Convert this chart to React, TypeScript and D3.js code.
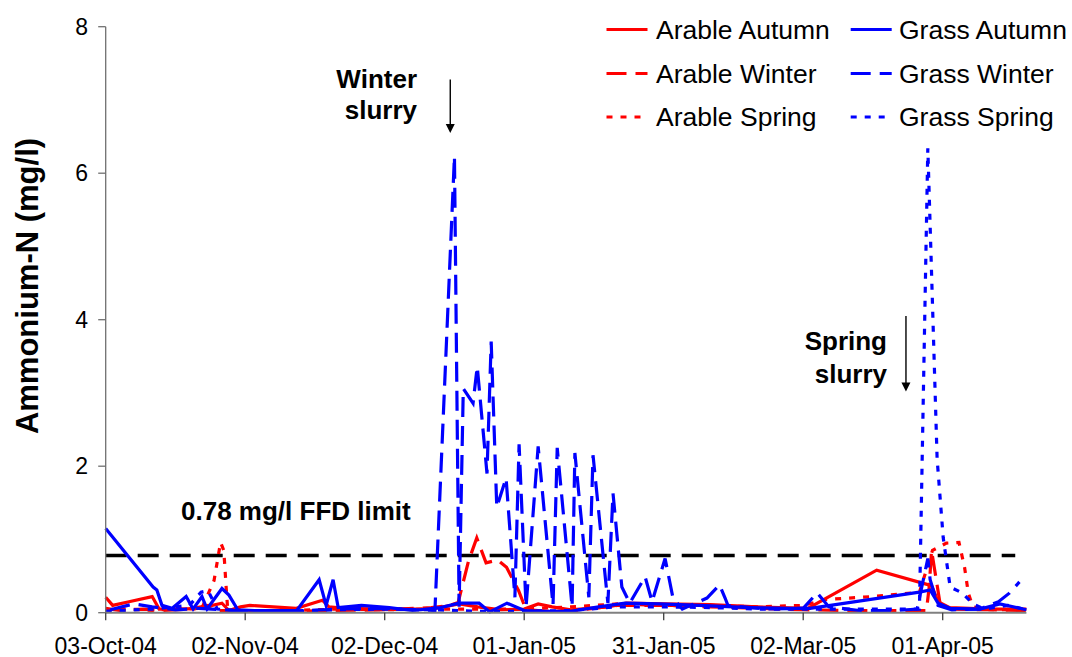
import React from 'react';
import * as d3 from 'd3';

// ---- data (days after 03-Oct-2004, ammonium-N mg/l) ----
const START = Date.UTC(2004, 9, 3);
const DAY = 86400000;
const END_DAY = 198;

const tickDays = [0, 30, 60, 90, 120, 150, 180];
const yTicks = [0, 2, 4, 6, 8];
const ffdLimit = 0.78;
const ffdEndDay = 195.6;

const arableAutumnDays = [0, 1.5, 5, 10, 11.5, 16, 20, 25, 26.5, 29, 31, 36, 41, 46.6, 48, 51.5, 60, 70, 76, 80, 85, 90, 93, 96, 100, 108, 112, 120, 130, 140, 151, 165.8, 177.6, 179, 181.5, 190, 198];
const arableAutumnValues = [0.21, 0.1, 0.15, 0.22, 0.05, 0.05, 0.06, 0.13, 0.03, 0.08, 0.1, 0.08, 0.06, 0.17, 0.08, 0.06, 0.05, 0.05, 0.12, 0.08, 0.04, 0.05, 0.12, 0.08, 0.04, 0.08, 0.13, 0.12, 0.11, 0.08, 0.06, 0.58, 0.37, 0.15, 0.07, 0.05, 0.05];

const arableWinterDays = [0, 3, 8, 12, 18, 22, 24, 30, 40, 50, 60, 70, 74, 75.8, 78, 79.8, 81.8, 84.3, 86.2, 88.8, 90.4, 95, 100, 105, 110, 120, 130, 140, 150, 160, 170, 176.5, 177.1, 177.6, 179.5, 182, 190, 198];
const arableWinterValues = [0.06, 0.03, 0.05, 0.03, 0.05, 0.1, 0.03, 0.03, 0.02, 0.03, 0.04, 0.07, 0.1, 0.14, 0.7, 1.02, 0.68, 0.72, 0.62, 0.3, 0.04, 0.02, 0.02, 0.06, 0.1, 0.1, 0.08, 0.06, 0.04, 0.03, 0.03, 0.03, 0.35, 0.85, 0.1, 0.05, 0.04, 0.03];

const arableSpringDays = [0, 5, 10, 15, 20.6, 23.3, 24.7, 25.4, 25.9, 26.2, 30, 40, 50, 60, 70, 80, 90, 100, 110, 120, 130, 140, 150, 155, 165, 175, 177.8, 180.8, 183.5, 184.7, 185.5, 186.5, 190, 198];
const arableSpringValues = [0.04, 0.05, 0.03, 0.06, 0.05, 0.44, 0.96, 0.85, 0.35, 0.08, 0.03, 0.03, 0.05, 0.04, 0.05, 0.05, 0.05, 0.08, 0.12, 0.1, 0.1, 0.08, 0.1, 0.18, 0.22, 0.28, 0.85, 0.95, 0.96, 0.62, 0.27, 0.08, 0.04, 0.04];

const grassAutumnDays = [0, 10.2, 11, 12.1, 14.3, 17.3, 18.8, 20.7, 21.8, 25, 26.5, 28.4, 32, 36.4, 41.1, 45.9, 47.4, 48.9, 50, 55, 61, 66, 72, 76, 80.3, 82.6, 86.3, 90, 94.5, 100, 106, 111.7, 119, 127.7, 138.6, 147, 151.5, 175, 177.3, 179, 181.6, 188, 192.3, 198];
const grassAutumnValues = [1.15, 0.35, 0.31, 0.1, 0.06, 0.22, 0.05, 0.22, 0.05, 0.33, 0.24, 0.04, 0.03, 0.03, 0.03, 0.45, 0.1, 0.45, 0.07, 0.1, 0.07, 0.03, 0.07, 0.13, 0.13, 0.01, 0.13, 0.03, 0.02, 0.02, 0.08, 0.13, 0.12, 0.1, 0.07, 0.06, 0.06, 0.28, 0.31, 0.13, 0.06, 0.05, 0.12, 0.04];

const grassWinterDays = [1, 6, 10, 15, 20, 30, 40, 50, 60, 66, 70.8, 75, 76, 76.9, 79, 79.9, 82, 82.9, 84.1, 86.1, 88, 88.9, 90.4, 93, 96.2, 97.1, 100.3, 100.9, 103.9, 104.8, 108, 109.1, 111, 112.7, 116, 117.5, 120.3, 122, 124, 129.3, 132, 133.2, 133.8, 142, 150, 153, 155.5, 162, 170, 174.5, 176.8, 177.3, 179, 182, 188, 192, 194.4, 196.5];
const grassWinterValues = [0.04, 0.12, 0.08, 0.04, 0.06, 0.02, 0.02, 0.05, 0.06, 0.04, 0.03, 6.23, 0.08, 3.06, 2.86, 3.36, 1.9, 3.7, 1.44, 1.84, 0.21, 2.3, 0.08, 2.27, 0.1, 2.25, 0.08, 2.18, 0.21, 2.15, 0.13, 1.63, 0.35, 0.13, 0.49, 0.15, 0.74, 0.2, 0.05, 0.2, 0.38, 0.2, 0.1, 0.05, 0.06, 0.27, 0.08, 0.03, 0.03, 0.05, 0.74, 0.45, 0.1, 0.04, 0.05, 0.15, 0.27, 0.42];

const grassSpringDays = [0, 10, 18, 20.5, 22, 24, 30, 40, 50, 60, 70, 80, 90, 100, 110, 120, 130, 140, 150, 160, 170, 175, 176.8, 178.8, 180.1, 181.6, 184.2, 186.5, 189, 194, 198];
const grassSpringValues = [0.02, 0.05, 0.1, 0.28, 0.3, 0.05, 0.02, 0.02, 0.04, 0.05, 0.04, 0.02, 0.02, 0.03, 0.08, 0.08, 0.07, 0.05, 0.05, 0.05, 0.05, 0.05, 6.34, 2.1, 1.03, 0.35, 0.27, 0.12, 0.05, 0.1, 0.04];

const seriesNames = ['Arable Autumn', 'Arable Winter', 'Arable Spring', 'Grass Autumn', 'Grass Winter', 'Grass Spring'];

// annotation anchors in data units
const winterArrow = { day: 74.1, from: 7.28, to: 6.55 };
const springArrow = { day: 172.1, from: 4.05, to: 3.02 };

const RED = '#FF0000';
const BLUE = '#0000FF';
const DASHED = '20,9';
const DOTTED = '6,8';
const FONT = 'Arial, "Liberation Sans", Helvetica, sans-serif';

export default function App() {
  const x = d3
    .scaleUtc()
    .domain([new Date(START), new Date(START + END_DAY * DAY)])
    .range([105.7, 1026.4]);
  const y = d3.scaleLinear().domain([0, 8]).range([612.7, 26.7]);
  const dx = (d: number) => x(new Date(START + d * DAY));
  const fmt = d3.utcFormat('%d-%b-%y');

  const series = [
    { name: seriesNames[0], days: arableAutumnDays, values: arableAutumnValues, color: RED, dash: undefined },
    { name: seriesNames[1], days: arableWinterDays, values: arableWinterValues, color: RED, dash: DASHED },
    { name: seriesNames[2], days: arableSpringDays, values: arableSpringValues, color: RED, dash: DOTTED },
    { name: seriesNames[3], days: grassAutumnDays, values: grassAutumnValues, color: BLUE, dash: undefined },
    { name: seriesNames[4], days: grassWinterDays, values: grassWinterValues, color: BLUE, dash: DASHED },
    { name: seriesNames[5], days: grassSpringDays, values: grassSpringValues, color: BLUE, dash: DOTTED },
  ];

  const line = d3
    .line<[number, number]>()
    .x((d) => dx(d[0]))
    .y((d) => y(d[1]));

  const x0 = dx(0);
  const yBase = y(0);

  const legendCols = [
    { lineX: 606.5, textX: 656 },
    { lineX: 850.7, textX: 899 },
  ];
  const legendRows = [29.5, 73.5, 117];

  const arrow = (a: { day: number; from: number; to: number }) => {
    const ax = dx(a.day);
    const y1 = y(a.from);
    const y2 = y(a.to);
    return (
      <g>
        <line x1={ax} x2={ax} y1={y1} y2={y2 - 8} stroke="#000" strokeWidth={1.4} />
        <path d={`M${ax - 4.5},${y2 - 9} L${ax + 4.5},${y2 - 9} L${ax},${y2} Z`} fill="#000" />
      </g>
    );
  };

  return (
    <svg
      width={1072}
      height={657}
      style={{ position: 'absolute', left: 0, top: 0, background: '#fff' }}
      fontFamily={FONT}
    >
      <rect x={0} y={0} width={1072} height={657} fill="#fff" />

      {/* FFD limit line */}
      <line
        x1={x0}
        x2={dx(ffdEndDay)}
        y1={y(ffdLimit)}
        y2={y(ffdLimit)}
        stroke="#000"
        strokeWidth={3.4}
        strokeDasharray="21,11"
      />

      {/* series */}
      {series.map((s) => (
        <path
          key={s.name}
          d={line(s.days.map((d, i) => [d, s.values[i]] as [number, number])) || ''}
          fill="none"
          stroke={s.color}
          strokeWidth={3.2}
          strokeDasharray={s.dash}
          strokeLinejoin="miter"
        />
      ))}

      {/* axes */}
      <line x1={x0} x2={x0} y1={y(8)} y2={yBase} stroke="#707070" strokeWidth={1.3} />
      <line x1={x0} x2={dx(END_DAY)} y1={yBase} y2={yBase} stroke="#808080" strokeWidth={2} />
      {yTicks.map((t) => (
        <g key={t}>
          <line x1={x0 - 7.5} x2={x0} y1={y(t)} y2={y(t)} stroke="#707070" strokeWidth={1.3} />
          <text x={88} y={y(t)} dy="0.36em" textAnchor="end" fontSize={23} fill="#000">
            {t}
          </text>
        </g>
      ))}
      {tickDays.map((d) => (
        <g key={d}>
          <line x1={dx(d)} x2={dx(d)} y1={yBase} y2={yBase + 7.5} stroke="#404040" strokeWidth={1.3} />
          <text x={dx(d)} y={653.5} textAnchor="middle" fontSize={23} fill="#000">
            {fmt(new Date(START + d * DAY))}
          </text>
        </g>
      ))}

      {/* y title */}
      <text
        transform="translate(38,286) rotate(-90)"
        textAnchor="middle"
        fontSize={31}
        fontWeight="bold"
        fill="#000"
      >
        Ammonium-N (mg/l)
      </text>

      {/* annotations */}
      <text x={181} y={519.5} fontSize={26} fontWeight="bold" fill="#000">
        0.78 mg/l FFD limit
      </text>
      <text x={417} y={87.5} textAnchor="end" fontSize={26} fontWeight="bold" fill="#000">
        Winter
      </text>
      <text x={417} y={118.5} textAnchor="end" fontSize={26} fontWeight="bold" fill="#000">
        slurry
      </text>
      {arrow(winterArrow)}
      <text x={887} y={350} textAnchor="end" fontSize={26} fontWeight="bold" fill="#000">
        Spring
      </text>
      <text x={887} y={383} textAnchor="end" fontSize={26} fontWeight="bold" fill="#000">
        slurry
      </text>
      {arrow(springArrow)}

      {/* legend */}
      {series.map((s, i) => {
        const col = legendCols[i < 3 ? 0 : 1];
        const ry = legendRows[i % 3];
        return (
          <g key={'lg' + s.name}>
            <line
              x1={col.lineX}
              x2={col.lineX + 41}
              y1={ry}
              y2={ry}
              stroke={s.color}
              strokeWidth={3.2}
              strokeDasharray={s.dash}
            />
            <text x={col.textX} y={ry} dy="0.35em" fontSize={26.5} fill="#000">
              {s.name}
            </text>
          </g>
        );
      })}
    </svg>
  );
}
